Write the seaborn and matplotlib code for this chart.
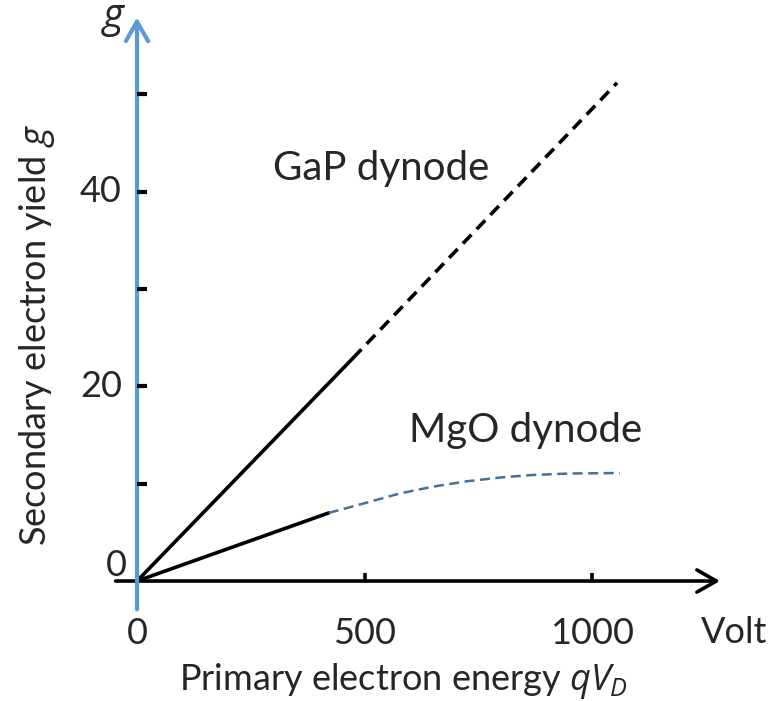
import matplotlib
matplotlib.use("Agg")
import matplotlib.pyplot as plt
from matplotlib.patches import FancyArrowPatch
import seaborn as sns
import pandas as pd

# ---- data ----
gap_solid_x = [0, 474]
gap_solid_y = [0, 22.9]
gap_dash_x = [474, 1054]
gap_dash_y = [22.9, 51.2]

mgo_solid_x = [0, 421]
mgo_solid_y = [0, 7.0]
mgo_dash_x = [421, 500, 577, 650, 724, 800, 869, 950, 1060]
mgo_dash_y = [7.0, 8.0, 9.0, 9.7, 10.25, 10.65, 10.9, 11.05, 11.1]

x_ticks = [0, 500, 1000]
x_tick_labels = ["0", "500", "1000"]
y_major_ticks = [20, 40]
y_major_labels = ["20", "40"]
y_minor_ticks = [10, 20, 30, 40, 50]

sns.set_style("white")
FONT = "Lato"
plt.rcParams["font.family"] = [FONT, "DejaVu Sans"]
plt.rcParams["mathtext.fontset"] = "custom"
plt.rcParams["mathtext.rm"] = FONT
plt.rcParams["mathtext.it"] = "Open Sans:italic"

fig = plt.figure(figsize=(7.75, 7.01), dpi=100)
ax = fig.add_axes([0, 0, 1, 1])
ax.set_xlim(-300.8, 1400.7)
ax.set_ylim(-12.33, 59.71)
ax.axis("off")

BLUE_AXIS = "#5B9BD5"
BLUE_LINE = "#41719C"

def line(xs, ys, **kw):
    sns.lineplot(data=pd.DataFrame({"x": xs, "y": ys}), x="x", y="y",
                 ax=ax, sort=False, estimator=None, **kw)

line(gap_solid_x, gap_solid_y, color="black", linewidth=2.6)
line(gap_dash_x, gap_dash_y, color="black", linewidth=2.6,
     linestyle=(0, (3.4, 2.1)))
line(mgo_solid_x, mgo_solid_y, color="black", linewidth=2.6)
line(mgo_dash_x, mgo_dash_y, color=BLUE_LINE, linewidth=1.8,
     linestyle=(0, (4.0, 2.2)))

# axes arrows
ax.add_patch(FancyArrowPatch((-53, 0), (1286, 0), arrowstyle="->,head_length=0.7,head_width=0.4",
                             mutation_scale=20, color="black", lw=2.6, zorder=3))
ax.add_patch(FancyArrowPatch((0, -3.2), (0, 58.2), arrowstyle="->,head_length=0.7,head_width=0.4",
                             mutation_scale=20, color=BLUE_AXIS, lw=3.0, zorder=4))

# ticks
ax.hlines(y_minor_ticks, 0, 22, color="black", lw=3, zorder=5)
ax.vlines(x_ticks[1:], 0, 0.85, color="black", lw=2.6, zorder=5)

FS = 26
for xv, lab in zip(x_ticks, x_tick_labels):
    ax.text(xv, -5.4, lab, ha="center", va="center", fontsize=FS)
for yv, lab in zip(y_major_ticks, y_major_labels):
    ax.text(-33, yv, lab, ha="right", va="center", fontsize=FS)
ax.text(-23, 1.6, "0", ha="right", va="center", fontsize=FS)
ax.text(1384, -5.3, "Volt", ha="right", va="center", fontsize=FS)

ax.text(536, 42.4, "GaP dynode", ha="center", va="center", fontsize=29)
ax.text(854, 15.5, "MgO dynode", ha="center", va="center", fontsize=29)

ax.text(586, -10.3, "Primary electron energy $qV_D$", ha="center", va="center", fontsize=FS)
ax.text(-219, 25.3, "Secondary electron yield $g$", ha="center", va="center",
        rotation=90, fontsize=FS)
ax.text(-50, 57.6, "$g$", ha="center", va="center", fontsize=29)

fig.savefig("out.png", dpi=100)
